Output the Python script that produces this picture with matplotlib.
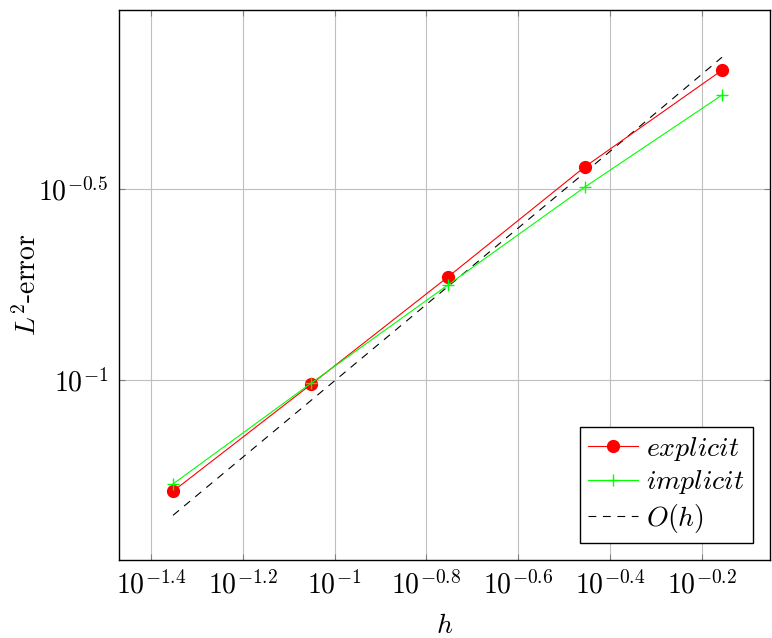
import numpy as np
import matplotlib
matplotlib.use("Agg")
import matplotlib.pyplot as plt
from matplotlib.ticker import FixedLocator, FixedFormatter, NullLocator

# mesh widths and errors (log10 values)
log_h = [-1.352, -1.051, -0.753, -0.455, -0.156]
log_explicit = [-1.291, -1.011, -0.730, -0.442, -0.189]
log_implicit = [-1.272, -1.008, -0.751, -0.495, -0.254]
log_order = [-1.354, -1.053, -0.755, -0.457, -0.155]

x_ticks = [-1.4, -1.2, -1.0, -0.8, -0.6, -0.4, -0.2]
x_labels = [r"$10^{-1.4}$", r"$10^{-1.2}$", r"$10^{-1}$", r"$10^{-0.8}$",
            r"$10^{-0.6}$", r"$10^{-0.4}$", r"$10^{-0.2}$"]
y_ticks = [-1.0, -0.5]
y_labels = [r"$10^{-1}$", r"$10^{-0.5}$"]

plt.rcParams["mathtext.fontset"] = "cm"
plt.rcParams["font.family"] = ["cmr10", "DejaVu Serif"]
plt.rcParams["axes.formatter.use_mathtext"] = True

h = 10 ** np.array(log_h)
fig = plt.figure(figsize=(7.72, 6.38), dpi=100)
ax = fig.add_axes([119 / 772, 78 / 638, 651 / 772, 550 / 638])

ax.loglog(h, 10 ** np.array(log_explicit), color="#ff0000", lw=0.8,
          marker="o", markersize=8.5, label=r"$explicit$", zorder=3)
ax.loglog(h, 10 ** np.array(log_implicit), color="#00ff00", lw=0.8,
          marker="+", markersize=8, markeredgewidth=1.0, label=r"$implicit$", zorder=3)
ax.loglog(h, 10 ** np.array(log_order), color="black", lw=0.8,
          ls=(0, (7, 6)), label=r"$O(h)$", zorder=2)

ax.set_xlim(10 ** -1.4697, 10 ** -0.0515)
ax.set_ylim(10 ** -1.471, 10 ** -0.0314)

ax.xaxis.set_major_locator(FixedLocator(10 ** np.array(x_ticks)))
ax.xaxis.set_major_formatter(FixedFormatter(x_labels))
ax.xaxis.set_minor_locator(NullLocator())
ax.yaxis.set_major_locator(FixedLocator(10 ** np.array(y_ticks)))
ax.yaxis.set_major_formatter(FixedFormatter(y_labels))
ax.yaxis.set_minor_locator(NullLocator())

ax.grid(True, color="#bfbfbf", lw=0.8)
ax.set_axisbelow(True)
ax.tick_params(direction="in", length=4, width=0.8, color="#808080",
               top=True, right=True, labelsize=20, pad=8)
for spine in ax.spines.values():
    spine.set_linewidth(1.0)

ax.set_xlabel(r"$h$", fontsize=20, labelpad=9)
ax.set_ylabel(r"$L^2$-error", fontsize=20)
ax.yaxis.set_label_coords(-0.118, 0.5)

leg = ax.legend(loc="lower right", fontsize=20, fancybox=False, framealpha=1,
                edgecolor="black", handlelength=1.8, borderpad=0.3,
                labelspacing=0.2, handletextpad=0.3, borderaxespad=0.6)
leg.get_frame().set_linewidth(1.0)

fig.savefig("out.png", dpi=100)
